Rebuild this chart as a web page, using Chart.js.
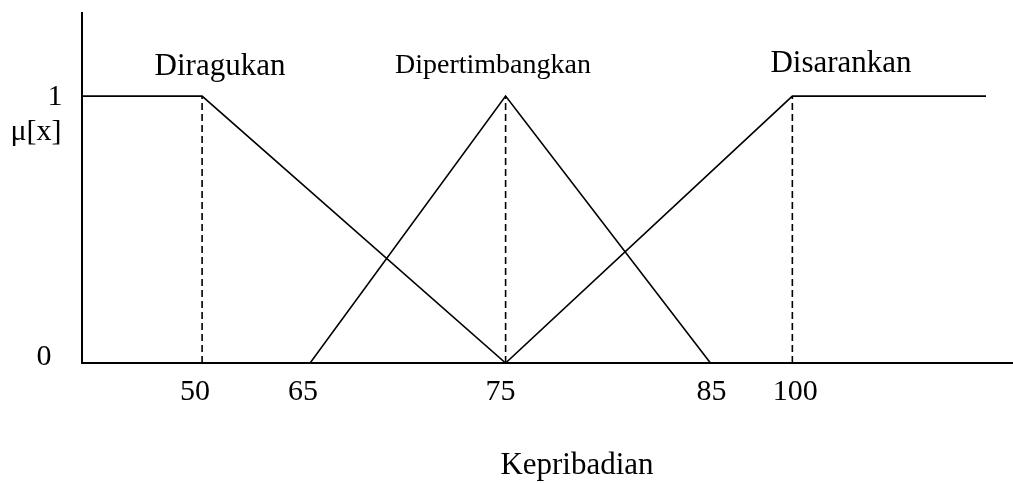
<!DOCTYPE html>
<html>
<head>
<meta charset="utf-8">
<script src="https://cdn.jsdelivr.net/npm/chart.js@4"></script>
<style>
  html, body { margin: 0; padding: 0; background: #fff; }
  #wrap { width: 1013px; height: 483px; }
</style>
</head>
<body>
<div id="wrap"><canvas id="chart" width="1013" height="483"></canvas></div>
<script>
// tick labels and where each one sits along the drawn axis (% of axis length, axis is not to scale)
const tickLabels = ['50', '65', '75', '85', '100'];
const tickPos = [12.9, 24.5, 45.5, 67.5, 76.3];
const axisEnd = 97.1; // where the "Disarankan" plateau stops

// membership curves: x = axis position, y = mu[x]
const diragukanX = [0, tickPos[0], tickPos[2]];
const diragukanY = [1, 1, 0];
const dipertimbangkanX = [tickPos[1], tickPos[2], tickPos[3]];
const dipertimbangkanY = [0, 1, 0];
const disarankanX = [tickPos[2], tickPos[4], axisEnd];
const disarankanY = [0, 1, 1];

const setNames = ['Diragukan', 'Dipertimbangkan', 'Disarankan'];
const dashedAt = [tickPos[0], tickPos[2], tickPos[4]];

function pts(xs, ys) {
    return xs.map((x, i) => ({ x: x, y: ys[i] }));
}

const solid = (name, xs, ys) => ({
    label: name,
    data: pts(xs, ys),
    showLine: true,
    borderColor: '#000',
    borderWidth: 1.6,
    pointRadius: 0,
    tension: 0
});

const datasets = [
    solid(setNames[0], diragukanX, diragukanY),
    solid(setNames[1], dipertimbangkanX, dipertimbangkanY),
    solid(setNames[2], disarankanX, disarankanY)
];
dashedAt.forEach(p => {
    datasets.push({
        label: 'guide',
        data: [{ x: p, y: 0 }, { x: p, y: 1 }],
        showLine: true,
        borderColor: '#000',
        borderWidth: 1.6,
        borderDash: [7, 4],
        pointRadius: 0
    });
});

const SERIF = '"Liberation Serif", "Times New Roman", serif';

// axes + all the text
const annotate = {
    id: 'annotate',
    afterDraw(chart) {
        const ctx = chart.ctx;
        const a = chart.chartArea;
        const x = chart.scales.x, y = chart.scales.y;
        ctx.save();
        ctx.strokeStyle = '#000';
        ctx.lineWidth = 2;
        ctx.beginPath();
        ctx.moveTo(a.left, a.top);
        ctx.lineTo(a.left, a.bottom);
        ctx.lineTo(a.right, a.bottom);
        ctx.stroke();

        ctx.fillStyle = '#000';
        ctx.textAlign = 'center';
        ctx.textBaseline = 'middle';
        ctx.font = '30px ' + SERIF;
        ctx.fillText('1', 55, y.getPixelForValue(1) + 1);
        ctx.fillText('0', 44, y.getPixelForValue(0) - 6);
        ctx.fillText('\u03bc[x]', 36, 132);

        // labels in the figure are nudged a bit off their ticks
        const nudge = [-7, -7, -5, 1, 3];
        tickLabels.forEach((t, i) => {
            ctx.fillText(t, x.getPixelForValue(tickPos[i]) + nudge[i], 392);
        });

        ctx.textBaseline = 'alphabetic';
        ctx.font = '31px ' + SERIF;
        ctx.fillText('Kepribadian', 577, 474);
        ctx.fillText(setNames[0], 220, 75);
        ctx.fillText(setNames[2], 841, 72);
        ctx.font = '28px ' + SERIF;
        ctx.fillText(setNames[1], 493, 73);
        ctx.restore();
    }
};

new Chart(document.getElementById('chart'), {
    type: 'scatter',
    data: { datasets: datasets },
    options: {
        responsive: false,
        animation: false,
        layout: { padding: { left: 82, top: 12, right: 0, bottom: 120 } },
        plugins: { legend: { display: false }, tooltip: { enabled: false } },
        scales: {
            x: { type: 'linear', min: 0, max: 100, display: false },
            y: { type: 'linear', min: 0, max: 1.315, display: false }
        }
    },
    plugins: [annotate]
});
</script>
</body>
</html>
